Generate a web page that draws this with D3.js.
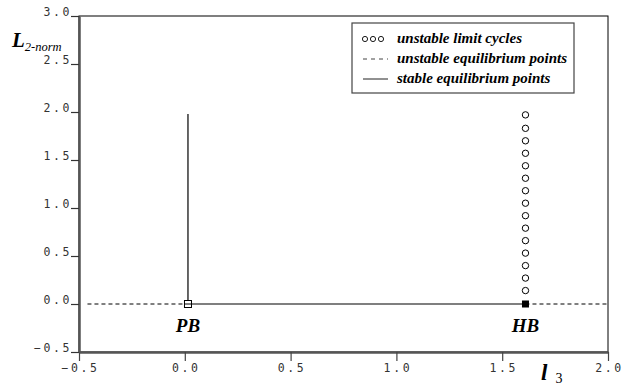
<!DOCTYPE html>
<html>
<head>
<meta charset="utf-8">
<script src="https://cdn.jsdelivr.net/npm/d3@7"></script>
<style>
  body { margin: 0; background: #fff; }
  svg { display: block; }
</style>
</head>
<body>
<script>
/* Data */
const xTicks = [-0.5, 0.0, 0.5, 1.0, 1.5, 2.0];
const yTicks = [-0.5, 0.0, 0.5, 1.0, 1.5, 2.0, 2.5, 3.0];

const pbPoint = [0.015, 0];
const hbPoint = [1.61, 0];

// unstable equilibrium (dashed) pieces
const unstableLeft = [[-0.46, 0], [0.015, 0]];
const unstableRight = [[1.61, 0], [2.0, 0]];
// stable equilibrium (solid)
const stableH = [[0.015, 0], [1.61, 0]];
const stableV = [[0.015, 0], [0.015, 1.98]];

// unstable limit cycles at HB
const cycleX = 1.61;
const cycleY = [0.14, 0.27, 0.40, 0.53, 0.66, 0.79, 0.92, 1.05, 1.18, 1.31, 1.44, 1.57, 1.70, 1.83, 1.97];

const legendLabels = ["unstable limit cycles", "unstable equilibrium points", "stable equilibrium points"];

/* Constants */
const w = 624, h = 387;
const padL = 79, padR = 608, padT = 16, padB = 352;

const svg = d3.select("body").append("svg")
  .attr("width", w)
  .attr("height", h);

const xScale = d3.scaleLinear().domain([-0.5, 2.0]).range([padL, padR]);
const yScale = d3.scaleLinear().domain([-0.5, 3.0]).range([padB, padT]);

/* Frame (top/right thin) */
svg.append("rect")
  .attr("x", padL).attr("y", padT)
  .attr("width", padR - padL).attr("height", padB - padT)
  .attr("fill", "none").attr("stroke", "#000").attr("stroke-width", 1);

/* Axes */
const fmt = d3.format(".1f");
const tickFont = "'DejaVu Sans Mono', monospace";

const xAxis = svg.append("g")
  .attr("transform", "translate(0," + padB + ")")
  .call(d3.axisBottom(xScale).tickValues(xTicks).tickFormat(d => fmt(d).replace("-", "\u2212")).tickSize(9).tickSizeOuter(0));
xAxis.select(".domain").attr("stroke", "#555").attr("stroke-width", 2.5);
xAxis.selectAll(".tick line").attr("stroke", "#444").attr("stroke-width", 1.2);
xAxis.selectAll(".tick text")
  .attr("y", 16).attr("dy", "0.32em").attr("dx", 1)
  .style("font-family", tickFont).style("font-size", "11.5px")
  .style("letter-spacing", "2.6px").attr("fill", "#333");

const yAxis = svg.append("g")
  .attr("transform", "translate(" + padL + ",0)")
  .call(d3.axisLeft(yScale).tickValues(yTicks).tickFormat(d => fmt(d).replace("-", "\u2212")).tickSize(8).tickSizeOuter(0));
yAxis.select(".domain").attr("stroke", "#555").attr("stroke-width", 2.5);
yAxis.selectAll(".tick line").attr("stroke", "#333").attr("stroke-width", 1.2);
yAxis.selectAll(".tick text")
  .attr("x", -7).attr("dy", "-0.05em")
  .style("font-family", tickFont).style("font-size", "11.5px")
  .style("letter-spacing", "2.6px").attr("fill", "#333");

/* Lines */
const line = d3.line().x(d => xScale(d[0])).y(d => yScale(d[1]));

[unstableLeft, unstableRight].forEach(seg => {
  svg.append("path").attr("d", line(seg))
    .attr("fill", "none").attr("stroke", "#000").attr("stroke-width", 1)
    .attr("stroke-dasharray", "4,3");
});
[stableH, stableV].forEach(seg => {
  svg.append("path").attr("d", line(seg))
    .attr("fill", "none").attr("stroke", "#000").attr("stroke-width", 1.2);
});

/* Limit cycles */
svg.selectAll("circle.cycle")
  .data(cycleY)
  .enter()
  .append("circle")
  .attr("class", "cycle")
  .attr("cx", xScale(cycleX))
  .attr("cy", d => yScale(d))
  .attr("r", 3.2)
  .attr("fill", "#fff").attr("stroke", "#000").attr("stroke-width", 1);

/* Bifurcation markers */
const sq = 7;
svg.append("rect")
  .attr("x", xScale(pbPoint[0]) - sq / 2).attr("y", yScale(pbPoint[1]) - sq / 2)
  .attr("width", sq).attr("height", sq)
  .attr("fill", "#fff").attr("stroke", "#000").attr("stroke-width", 1);
svg.append("line")
  .attr("x1", xScale(pbPoint[0]) - sq / 2).attr("x2", xScale(pbPoint[0]) + sq / 2)
  .attr("y1", yScale(pbPoint[1])).attr("y2", yScale(pbPoint[1]))
  .attr("stroke", "#000").attr("stroke-width", 1);
svg.append("rect")
  .attr("x", xScale(hbPoint[0]) - sq / 2).attr("y", yScale(hbPoint[1]) - sq / 2)
  .attr("width", sq).attr("height", sq)
  .attr("fill", "#000");

/* Point labels */
const serif = "'Liberation Serif', 'Times New Roman', serif";
svg.append("text").attr("x", xScale(pbPoint[0])).attr("y", 332)
  .attr("text-anchor", "middle")
  .style("font-family", serif).style("font-size", "19px")
  .style("font-weight", "bold").style("font-style", "italic")
  .text("PB");
svg.append("text").attr("x", xScale(hbPoint[0])).attr("y", 332)
  .attr("text-anchor", "middle")
  .style("font-family", serif).style("font-size", "19px")
  .style("font-weight", "bold").style("font-style", "italic")
  .text("HB");

/* Axis titles */
const yt = svg.append("text").attr("x", 12).attr("y", 47)
  .style("font-family", serif).style("font-weight", "bold").style("font-style", "italic");
yt.append("tspan").style("font-size", "21px").text("L");
yt.append("tspan").attr("dy", 4).style("font-size", "12.5px").style("font-weight", "normal").text("2-norm");

const xt = svg.append("text").attr("x", 541).attr("y", 380)
  .style("font-family", serif).style("font-weight", "bold");
xt.append("tspan").style("font-size", "23px").style("font-style", "italic").text("l");
xt.append("tspan").attr("dx", 8).attr("dy", 3).style("font-size", "14px").style("font-weight", "normal").text("3");

/* Legend */
const lg = svg.append("g");
lg.append("rect").attr("x", 352).attr("y", 23).attr("width", 222).attr("height", 70)
  .attr("fill", "#fff").attr("stroke", "#444").attr("stroke-width", 1.2);

const rowY = [38, 58, 78];
lg.selectAll("text.lab")
  .data(legendLabels)
  .enter()
  .append("text")
  .attr("class", "lab")
  .attr("x", 397)
  .attr("y", (d, i) => rowY[i])
  .attr("dy", "0.33em")
  .style("font-family", serif).style("font-size", "15px")
  .style("font-weight", "bold").style("font-style", "italic")
  .text(d => d);

[365, 373, 381].forEach(cx => {
  lg.append("circle").attr("cx", cx).attr("cy", rowY[0] + 1).attr("r", 2.6)
    .attr("fill", "none").attr("stroke", "#000").attr("stroke-width", 0.9);
});
lg.append("line").attr("x1", 363).attr("x2", 388).attr("y1", rowY[1] + 1).attr("y2", rowY[1] + 1)
  .attr("stroke", "#444").attr("stroke-width", 1).attr("stroke-dasharray", "4,4");
lg.append("line").attr("x1", 363).attr("x2", 388).attr("y1", rowY[2] + 1).attr("y2", rowY[2] + 1)
  .attr("stroke", "#222").attr("stroke-width", 1);
</script>
</body>
</html>
